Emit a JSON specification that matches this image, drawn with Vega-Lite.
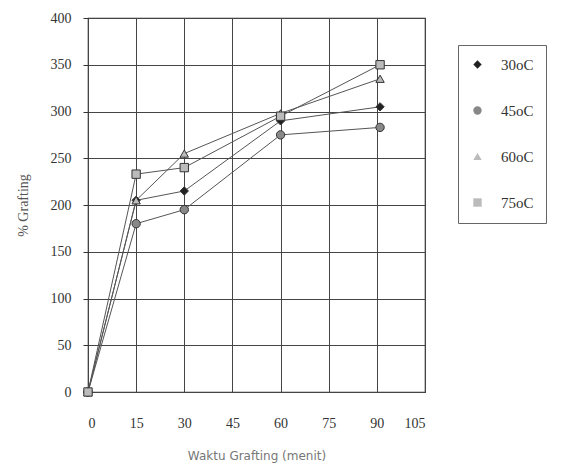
{
  "$schema": "https://vega.github.io/schema/vega-lite/v6.json",
  "width": 337,
  "height": 374,
  "autosize": {"type": "none"},
  "padding": {"left": 88, "top": 18, "right": 148, "bottom": 80},
  "background": "white",
  "config": {
    "view": {"stroke": "#333", "strokeWidth": 1.2},
    "font": "Liberation Serif"
  },
  "data": {
    "values": [
      {"series": "30oC", "t": 0, "v": 0},
      {"series": "30oC", "t": 15, "v": 205},
      {"series": "30oC", "t": 30, "v": 215},
      {"series": "30oC", "t": 60, "v": 290},
      {"series": "30oC", "t": 91, "v": 305},
      {"series": "45oC", "t": 0, "v": 0},
      {"series": "45oC", "t": 15, "v": 180},
      {"series": "45oC", "t": 30, "v": 195},
      {"series": "45oC", "t": 60, "v": 275},
      {"series": "45oC", "t": 91, "v": 283},
      {"series": "60oC", "t": 0, "v": 0},
      {"series": "60oC", "t": 15, "v": 205},
      {"series": "60oC", "t": 30, "v": 255},
      {"series": "60oC", "t": 60, "v": 298},
      {"series": "60oC", "t": 91, "v": 335},
      {"series": "75oC", "t": 0, "v": 0},
      {"series": "75oC", "t": 15, "v": 233},
      {"series": "75oC", "t": 30, "v": 240},
      {"series": "75oC", "t": 60, "v": 295},
      {"series": "75oC", "t": 91, "v": 350}
    ]
  },
  "encoding": {
    "x": {
      "field": "t", "type": "quantitative",
      "scale": {"domain": [0, 105], "nice": false, "zero": false},
      "axis": {
        "values": [0, 15, 30, 45, 60, 75, 90, 105],
        "title": "Waktu Grafting (menit)",
        "titleFont": "DejaVu Sans", "titleFontWeight": "normal", "titleFontSize": 12, "titleColor": "#777",
        "titlePadding": 20,
        "labelFont": "Liberation Serif", "labelFontSize": 14, "labelColor": "#333",
        "labelPadding": 24, "ticks": false, "domain": false,
        "grid": true, "gridColor": "#444", "gridWidth": 1
      }
    },
    "y": {
      "field": "v", "type": "quantitative",
      "scale": {"domain": [0, 400], "nice": false},
      "axis": {
        "values": [0, 50, 100, 150, 200, 250, 300, 350, 400],
        "title": "% Grafting",
        "titleFont": "Liberation Serif", "titleFontWeight": "normal", "titleFontSize": 14, "titleColor": "#555",
        "titlePadding": 20,
        "labelFont": "Liberation Serif", "labelFontSize": 14, "labelColor": "#333",
        "labelPadding": 12, "tickSize": 5, "tickColor": "#333", "domain": false,
        "grid": true, "gridColor": "#444", "gridWidth": 1
      }
    }
  },
  "layer": [
    {
      "mark": {"type": "line", "color": "#555", "strokeWidth": 1},
      "encoding": {"detail": {"field": "series"}}
    },
    {
      "mark": {"type": "point", "filled": true, "size": 70, "stroke": "#333", "strokeWidth": 1, "opacity": 1},
      "encoding": {
        "shape": {
          "field": "series", "type": "nominal",
          "scale": {"domain": ["30oC", "45oC", "60oC", "75oC"], "range": ["diamond", "circle", "triangle-up", "square"]},
          "legend": {
            "title": null, "orient": "none", "legendX": 370, "legendY": 27,
            "strokeColor": "#666", "padding": 12, "rowPadding": 30,
            "labelFont": "Liberation Serif", "labelFontSize": 15, "labelColor": "#333",
            "symbolSize": 70, "symbolStrokeWidth": 1, "symbolStrokeColor": "#333",
            "labelOffset": 16, "fillColor": "white"
          }
        },
        "fill": {
          "field": "series", "type": "nominal",
          "scale": {"domain": ["30oC", "45oC", "60oC", "75oC"], "range": ["#222", "#888", "#bbb", "#bbb"]},
          "legend": {
            "title": null, "orient": "none", "legendX": 370, "legendY": 27,
            "strokeColor": "#666", "padding": 12, "rowPadding": 30,
            "labelFont": "Liberation Serif", "labelFontSize": 15, "labelColor": "#333",
            "symbolSize": 70, "symbolStrokeWidth": 1, "symbolStrokeColor": "#333",
            "labelOffset": 16, "fillColor": "white"
          }
        }
      }
    }
  ]
}
